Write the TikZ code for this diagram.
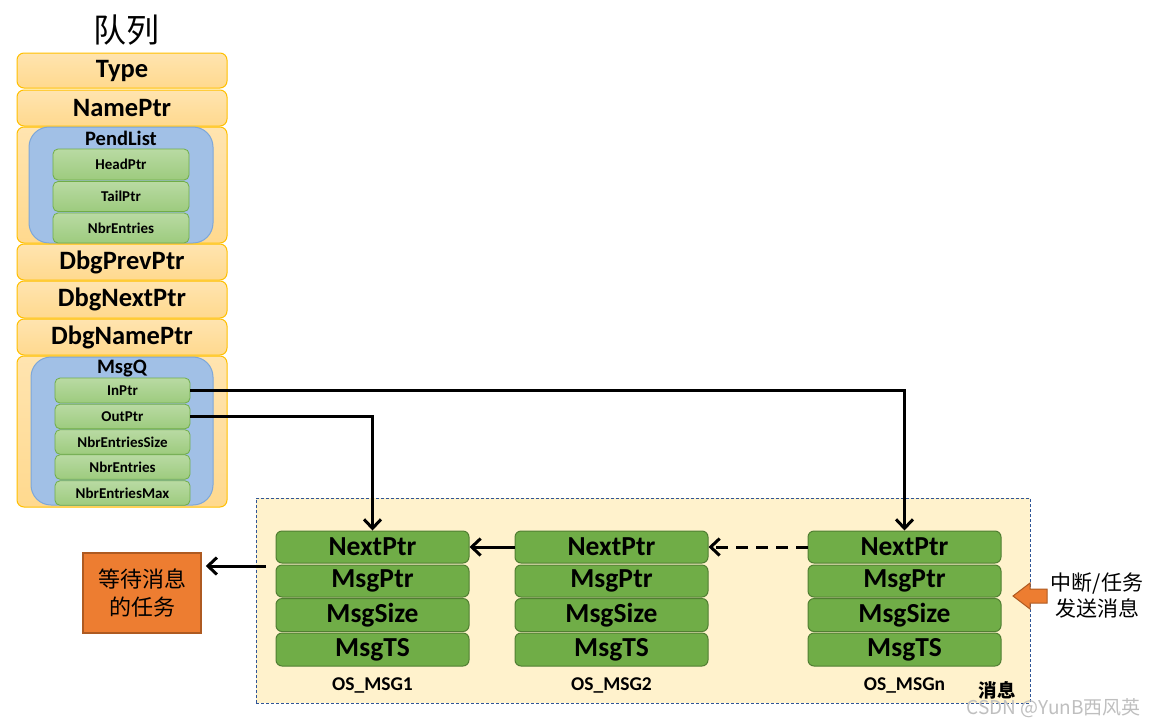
\documentclass[tikz,border=0pt]{standalone}
\usepackage{fontspec}
\setmainfont{Carlito}
\newfontfamily\cjk{Noto Sans CJK SC}
\usetikzlibrary{arrows.meta}
\definecolor{orF}{HTML}{FFD98E}
\definecolor{orT}{HTML}{FFE4B0}
\definecolor{orB}{HTML}{FFC000}
\definecolor{blF}{HTML}{A1C0E6}
\definecolor{blB}{HTML}{7DA7D9}
\definecolor{lgT}{HTML}{B9DAA3}
\definecolor{lgF}{HTML}{9DCB7E}
\definecolor{lgB}{HTML}{70AD47}
\definecolor{dgF}{HTML}{70AD47}
\definecolor{dgB}{HTML}{507E32}
\definecolor{tkF}{HTML}{ED7D31}
\definecolor{tkB}{HTML}{AE5A21}
\definecolor{arF}{HTML}{FFF2CC}
\definecolor{arB}{HTML}{2F5597}
\begin{document}
\begin{tikzpicture}[x=1pt,y=-1pt,
  obox/.style={draw=orB, line width=1pt, top color=orT, bottom color=orF, rounded corners=7pt, inner sep=0pt, minimum width=210, font=\fontsize{26.5}{28}\selectfont\bfseries},
  bbox/.style={draw=blB, line width=1pt, fill=blF, rounded corners=20pt, inner sep=0pt},
  lbox/.style={draw=lgB, line width=0.8pt, top color=lgT, bottom color=lgF, rounded corners=5pt, inner sep=0pt, font=\fontsize{15}{16}\selectfont\bfseries},
  mbox/.style={draw=dgB, line width=1pt, fill=dgF, rounded corners=6pt, inner sep=0pt, minimum width=193, minimum height=32, font=\fontsize{27.5}{29}\selectfont\bfseries},
  mlabel/.style={font=\fontsize{19.5}{21}\selectfont\bfseries, inner sep=0pt},
  arr/.style={line width=3pt, -{Straight Barb[length=9pt,width=17pt,line width=3pt]}},
]
\useasboundingbox (0,0) rectangle (1156,726);
\fill[white] (0,0) rectangle (1156,726);

% title
\node[font=\cjk\fontsize{33}{35}\selectfont, inner sep=0pt] (title) at (126,30) {队列};

% left stack
\node[obox, minimum height=35] (type) at (122,70.5) {Type};
\node[obox, minimum height=36] (nameptr) at (122,108) {NamePtr};
\node[obox, minimum height=116] (pendo) at (122,185) {};
\node[bbox, minimum width=184, minimum height=116] (pendb) at (121,185) {};
\node[font=\fontsize{20.5}{22}\selectfont\bfseries, inner sep=0pt] (pendl) at (121,138) {PendList};
\node[lbox, minimum width=136, minimum height=31] (head) at (121,164.5) {HeadPtr};
\node[lbox, minimum width=136, minimum height=30] (tail) at (121,196.5) {TailPtr};
\node[lbox, minimum width=136, minimum height=30] (nbr1) at (121,228) {NbrEntries};
\node[obox, minimum height=36] (dprev) at (122,262) {DbgPrevPtr};
\node[obox, minimum height=37] (dnext) at (122,299.5) {DbgNextPtr};
\node[obox, minimum height=36] (dname) at (122,337) {DbgNamePtr};
\node[obox, minimum height=151] (msgqo) at (122,431.5) {};
\node[bbox, minimum width=182, minimum height=148] (msgqb) at (122,431) {};
\node[font=\fontsize{20.5}{22}\selectfont\bfseries, inner sep=0pt] (msgql) at (122,368.5) {MsgQ};
\node[lbox, minimum width=135, minimum height=25] (inptr) at (122.5,390.5) {InPtr};
\node[lbox, minimum width=135, minimum height=24.5] (outptr) at (122.5,416.5) {OutPtr};
\node[lbox, minimum width=135, minimum height=24.5] (nes) at (122.5,442) {NbrEntriesSize};
\node[lbox, minimum width=135, minimum height=24.5] (ne) at (122.5,467) {NbrEntries};
\node[lbox, minimum width=135, minimum height=24.5] (nem) at (122.5,493) {NbrEntriesMax};

% message area
\node[draw=arB, densely dashed, line width=0.7pt, fill=arF, minimum width=774, minimum height=205, inner sep=0pt] (area) at (643,600.5) {};
\node[font=\cjk\fontsize{18.5}{20}\selectfont\bfseries, inner sep=0pt] (xiaoxi) at (997,690) {消息};

% messages
\foreach \n/\x/\lab in {m1/372.5/OS\_MSG1, m2/611.5/OS\_MSG2, m3/904.5/OS\_MSGn}{
  \node[mbox] (\n next) at (\x,547) {NextPtr};
  \node[mbox] (\n ptr) at (\x,581) {MsgPtr};
  \node[mbox, minimum height=33] (\n size) at (\x,615) {MsgSize};
  \node[mbox, minimum height=33] (\n ts) at (\x,649.5) {MsgTS};
  \node[mlabel] (\n lab) at (\x,685.5) {\lab};
}

% waiting task
\node[draw=tkB, line width=1.5pt, fill=tkF, minimum width=118, minimum height=80, inner sep=0pt, align=center, font=\cjk\fontsize{22}{28}\selectfont] (task) at (142,593) {等待消息\\的任务};

% sender label
\node[font=\cjk\fontsize{21}{26}\selectfont, align=center, inner sep=0pt] (sender) at (1097,596) {中断/任务\\发送消息};
\draw[draw=tkB, line width=1pt, fill=tkF] (1013,596) -- (1030,583) -- (1030,589) -- (1047,589) -- (1047,603) -- (1030,603) -- (1030,609) -- cycle;

% connectors
\draw[arr] (inptr.east) -| (m3next.north);
\draw[arr] (outptr.east) -| (m1next.north);
\draw[arr] (m2next.west) -- (m1next.east);
\draw[arr, dash pattern=on 12pt off 8pt] (m3next.west) -- (m2next.east);
\coordinate (tw) at (266,566);
\draw[arr, shorten >=4pt] (tw) -- (task.east |- tw);

% watermark
\node[font=\cjk\fontsize{19}{21}\selectfont, text=black!25, inner sep=0pt, anchor=east] (wm) at (1141,708) {CSDN @YunB西风英};
\end{tikzpicture}
\end{document}
